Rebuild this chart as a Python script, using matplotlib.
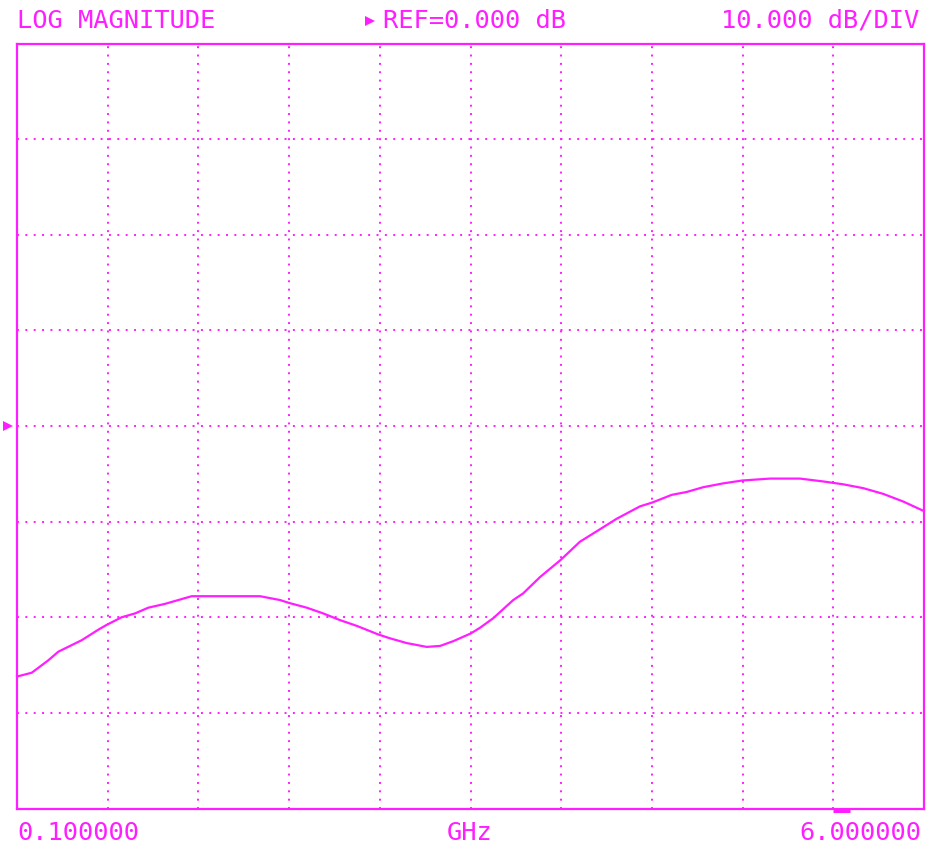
import matplotlib
matplotlib.use("Agg")
import matplotlib.pyplot as plt
from matplotlib.lines import Line2D
import matplotlib.transforms as mtransforms

# ---- data ----
freq_ghz = [0.100, 0.196, 0.304, 0.369, 0.445, 0.521, 0.629, 0.683, 0.781, 0.868,
            0.954, 1.063, 1.171, 1.236, 1.388, 1.562, 1.681, 1.811, 1.869, 1.985,
            2.092, 2.201, 2.310, 2.450, 2.526, 2.635, 2.765, 2.852, 2.938, 3.051,
            3.112, 3.198, 3.328, 3.393, 3.502, 3.637, 3.762, 3.892, 4.001, 4.153,
            4.233, 4.359, 4.456, 4.564, 4.694, 4.818, 4.998, 5.193, 5.345, 5.475,
            5.605, 5.735, 5.865, 6.000]
mag_db = [-26.2, -25.8, -24.5, -23.6, -23.0, -22.4, -21.3, -20.8, -20.0, -19.6,
          -19.0, -18.6, -18.1, -17.8, -17.8, -17.8, -17.8, -18.2, -18.5, -19.0,
          -19.6, -20.3, -20.9, -21.8, -22.2, -22.7, -23.1, -23.0, -22.5, -21.7,
          -21.1, -20.1, -18.2, -17.5, -15.8, -14.0, -12.1, -10.8, -9.7, -8.4,
          -8.0, -7.2, -6.9, -6.4, -6.0, -5.7, -5.5, -5.5, -5.8, -6.1,
          -6.5, -7.1, -7.9, -8.9]
f_start, f_stop = 0.1, 6.0
ref_db = 0.0
db_per_div = 10.0
n_xdiv, n_ydiv = 10, 8
marker_freq = 5.45

title_left = "LOG MAGNITUDE"
title_mid = "REF=0.000 dB"
title_right = "10.000 dB/DIV"
label_start = "0.100000"
label_unit = "GHz"
label_stop = "6.000000"

C = "#ff1eff"
W, H = 929, 852
fig = plt.figure(figsize=(W / 100, H / 100), dpi=100)
fig.patch.set_facecolor("white")
ax = fig.add_axes([17 / W, 1 - 808.5 / H, 907 / W, 765 / H])
ax.set_facecolor("white")

ylo = ref_db - db_per_div * n_ydiv / 2
yhi = ref_db + db_per_div * n_ydiv / 2
ax.set_xlim(f_start, f_stop)
ax.set_ylim(ylo, yhi)
ax.set_xticks([])
ax.set_yticks([])
for s in ax.spines.values():
    s.set_color(C)
    s.set_linewidth(1.6)

# dotted graticule
xstep = (f_stop - f_start) / n_xdiv
for i in range(1, n_xdiv):
    ax.axvline(f_start + i * xstep, color=C, lw=1.4, ls=(0, (1, 3.3)),
               dash_capstyle="butt", zorder=1)
for j in range(1, n_ydiv):
    ax.axhline(ylo + j * db_per_div, color=C, lw=1.4, ls=(0, (1, 3.3)),
               dash_capstyle="butt", zorder=1)

# trace
ax.plot(freq_ghz, mag_db, color=C, lw=1.6, zorder=3, clip_on=False,
        solid_joinstyle="round")

# reference level marker on the left
tr = mtransforms.blended_transform_factory(ax.transAxes, ax.transData)
ax.plot([-0.0095], [ref_db], marker=">", color=C, ms=7, transform=tr,
        clip_on=False, markeredgewidth=0)

# small marker indicator under the bottom border
tr2 = mtransforms.blended_transform_factory(ax.transData, ax.transAxes)
ax.plot([marker_freq - 0.04, marker_freq + 0.07], [-0.003, -0.003], color=C,
        lw=2.2, transform=tr2, clip_on=False, solid_capstyle="butt")

font = dict(family="DejaVu Sans Mono", size=18.3, color=C)
ty = 1 - 21 / H
fig.text(17 / W, ty, title_left, ha="left", va="center", **font)
fig.text(383 / W, ty, title_mid, ha="left", va="center", **font)
fig.add_artist(Line2D([370 / W], [ty], marker=">", color=C, ms=7,
                      markeredgewidth=0, transform=fig.transFigure))
fig.text(919 / W, ty, title_right, ha="right", va="center", **font)

by = 1 - 833 / H
fig.text(17 / W, by, label_start, ha="left", va="center", **font)
fig.text(447 / W, by, label_unit, ha="left", va="center", **font)
fig.text(921 / W, by, label_stop, ha="right", va="center", **font)

fig.savefig("out.png", dpi=100, facecolor="white")
